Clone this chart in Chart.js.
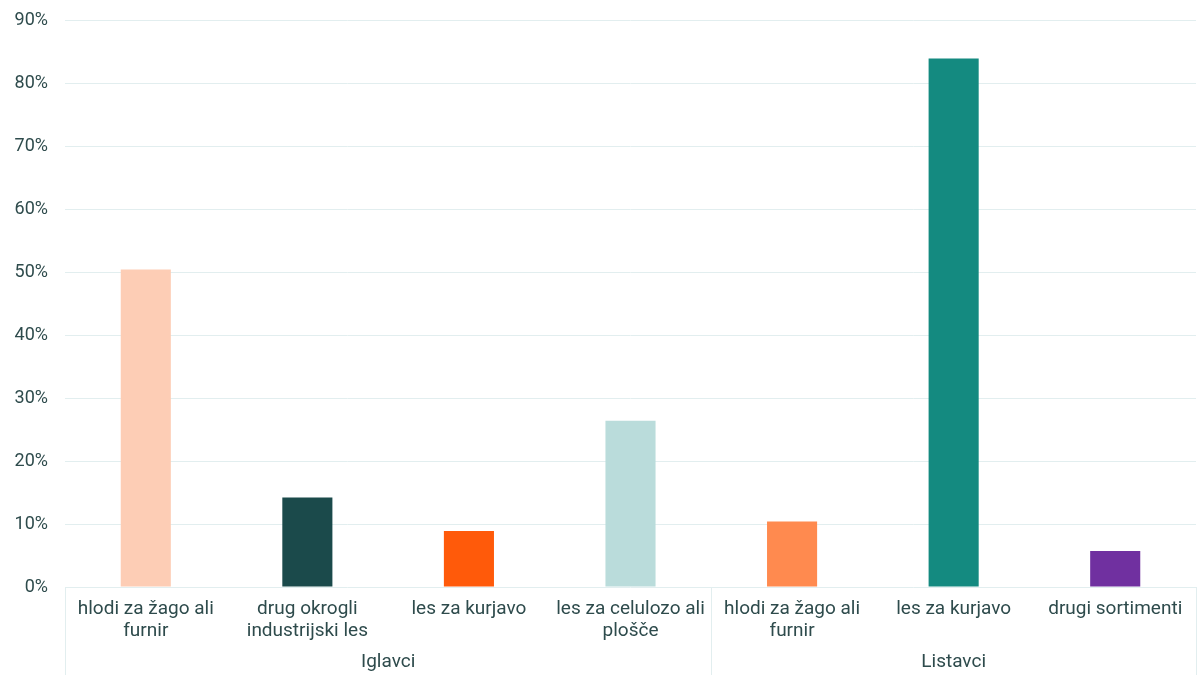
<!DOCTYPE html>
<html>
<head>
<meta charset="utf-8">
<script src="https://cdn.jsdelivr.net/npm/chart.js@4"></script>
<style>
	html, body { margin: 0; padding: 0; background: #ffffff; }
	#wrap { width: 1200px; height: 675px; position: relative; }
</style>
</head>
<body>
<div id="wrap"><canvas id="chart"></canvas></div>
<script>
	'use strict';

	// categories (multi-line labels) and their groups
	const categories = [
		[ 'hlodi za žago ali', 'furnir' ],
		[ 'drug okrogli', 'industrijski les' ],
		[ 'les za kurjavo' ],
		[ 'les za celulozo ali', 'plošče' ],
		[ 'hlodi za žago ali', 'furnir' ],
		[ 'les za kurjavo' ],
		[ 'drugi sortimenti' ],
	];
	const groups     = [ 'Iglavci', 'Listavci' ];
	const groupSizes = [ 4, 3 ];

	// share in percent
	const values = [ 50.4, 14.2, 8.9, 26.4, 10.4, 83.9, 5.7 ];

	const barColors = [ '#FDCDB5', '#1B4A4B', '#FF5A0A', '#BADCDB', '#FF8A4F', '#148A80', '#7030A0' ];

	const yTicks = [ 0, 10, 20, 30, 40, 50, 60, 70, 80, 90 ];

	const textColor = '#2E4B4C';
	const lineColor = '#E2EEEF';
	const fontFamily = "Roboto, 'Noto Sans', sans-serif";

	// group labels + separator box under the category axis
	const groupAxis = {
		id: 'groupAxis',
		afterDraw: function ( chart ) {
			const ctx  = chart.ctx;
			const x    = chart.scales.x;
			const area = chart.chartArea;
			const bottom = chart.height;
			const step = x.getPixelForValue( 1 ) - x.getPixelForValue( 0 );

			ctx.save();
			ctx.strokeStyle = lineColor;
			ctx.lineWidth = 1;
			ctx.fillStyle = textColor;
			ctx.font = '19px ' + fontFamily;
			ctx.textAlign = 'center';
			ctx.textBaseline = 'middle';

			let start = 0;
			groups.forEach( function ( g, i ) {
				const end = start + groupSizes[ i ] - 1;
				const left  = x.getPixelForValue( start ) - step / 2;
				const right = x.getPixelForValue( end ) + step / 2;
				ctx.beginPath();
				ctx.moveTo( Math.round( left ) + 0.5, area.bottom );
				ctx.lineTo( Math.round( left ) + 0.5, bottom );
				ctx.moveTo( Math.round( right ) + 0.5, area.bottom );
				ctx.lineTo( Math.round( right ) + 0.5, bottom );
				ctx.stroke();
				ctx.fillText( g, ( left + right ) / 2, 662 );
				start = end + 1;
			} );
			ctx.restore();
		},
	};

	Chart.defaults.font.family = fontFamily;
	Chart.defaults.font.size   = 18;
	Chart.defaults.color       = textColor;

	new Chart( document.getElementById( 'chart' ), {
		type: 'bar',
		data: {
			labels: categories,
			datasets: [ {
				data:            values,
				backgroundColor: barColors,
				borderWidth:     0,
				categoryPercentage: 1,
				barPercentage:   0.31,
			} ],
		},
		options: {
			responsive:          true,
			maintainAspectRatio: false,
			animation:           false,
			layout: { padding: { top: 20, right: 4, left: 0, bottom: 0 } },
			plugins: {
				legend:  { display: false },
				tooltip: { enabled: false },
			},
			scales: {
				x: {
					grid:   { display: false, drawTicks: false },
					border: { display: false },
					ticks:  { padding: 11, maxRotation: 0, autoSkip: false, color: textColor, font: { size: 19, lineHeight: 1.15 } },
					afterFit: function ( scale ) {
						scale.height = 88;
						scale.paddingLeft = 0;
						scale.paddingRight = 0;
					},
				},
				y: {
					min: 0,
					max: 90,
					afterBuildTicks: function ( scale ) {
						scale.ticks = yTicks.map( function ( v ) { return { value: v }; } );
					},
					grid:   { color: lineColor, drawTicks: false },
					border: { display: false },
					ticks: {
						padding: 17,
						color:   textColor,
						font:    { size: 18 },
						callback: function ( v ) { return v + '%'; },
					},
					afterFit: function ( scale ) {
						scale.width = 65;
						scale.paddingTop = 0;
						scale.paddingBottom = 0;
					},
				},
			},
		},
		plugins: [ groupAxis ],
	} );
</script>
</body>
</html>
